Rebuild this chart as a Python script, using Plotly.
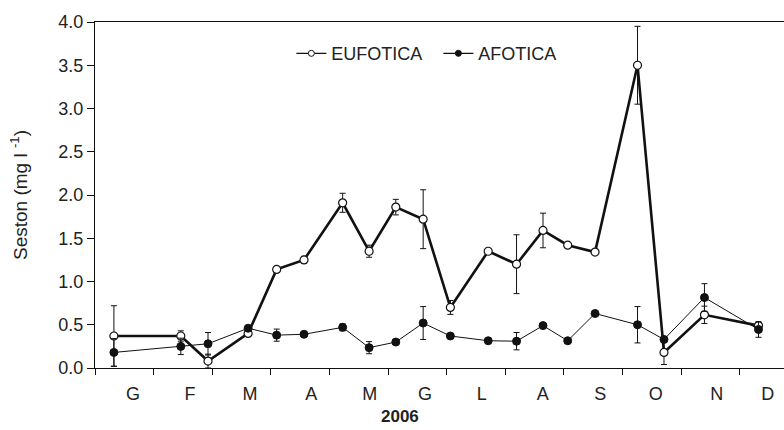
import datetime as dt
import calendar
import plotly.graph_objects as go

# Sampling dates (2006)
sample_dates = [
    "2006-01-11", "2006-02-14", "2006-02-27", "2006-03-20", "2006-04-04",
    "2006-04-18", "2006-05-08", "2006-05-22", "2006-06-05", "2006-06-19",
    "2006-07-03", "2006-07-23", "2006-08-07", "2006-08-21", "2006-09-03",
    "2006-09-17", "2006-10-09", "2006-10-23", "2006-11-13", "2006-12-11",
]

# Seston (mg l-1), euphotic layer: mean and error
eufotica = [0.37, 0.37, 0.08, 0.40, 1.14, 1.25, 1.91, 1.35, 1.86, 1.72,
            0.70, 1.35, 1.20, 1.59, 1.42, 1.34, 3.50, 0.18, 0.615, 0.49]
eufotica_err = [0.35, 0.06, 0.08, 0.03, 0.03, 0.04, 0.11, 0.07, 0.09, 0.34,
                0.08, 0.02, 0.34, 0.20, 0.02, 0.02, 0.45, 0.14, 0.10, 0.03]

# Seston (mg l-1), aphotic layer: mean and error
afotica = [0.18, 0.25, 0.28, 0.46, 0.38, 0.39, 0.47, 0.235, 0.30, 0.52,
           0.37, 0.315, 0.31, 0.49, 0.315, 0.63, 0.50, 0.33, 0.815, 0.445]
afotica_err = [0.16, 0.095, 0.13, 0.02, 0.07, 0.02, 0.04, 0.07, 0.02, 0.19,
               0.02, 0.02, 0.10, 0.02, 0.02, 0.02, 0.21, 0.03, 0.16, 0.09]

# Month initials and their label positions (in months from 1 January)
month_labels = ["G", "F", "M", "A", "M", "G", "L", "A", "S", "O", "N", "D"]
month_label_pos = [0.65, 1.62, 2.645, 3.69, 4.69, 5.63, 6.60, 7.64, 8.62, 9.57, 10.61, 11.48]
month_bounds = list(range(13))

y_ticks = [0, 0.5, 1.0, 1.5, 2.0, 2.5, 3.0, 3.5, 4.0]


def month_fraction(date_str):
    d = dt.date.fromisoformat(date_str)
    days = calendar.monthrange(d.year, d.month)[1]
    return (d.month - 1) + (d.day - 1) / days


x_vals = [month_fraction(s) for s in sample_dates]

INK = "#111111"
TEXT = "#222222"
FONT = "Liberation Sans, Arial, sans-serif"

fig = go.Figure()

fig.add_trace(go.Scatter(
    x=x_vals, y=eufotica, name="EUFOTICA", mode="lines+markers",
    showlegend=False,
    line=dict(color=INK, width=2.6),
    marker=dict(symbol="circle", size=8, color="white", line=dict(color=INK, width=1.2)),
    error_y=dict(type="data", array=eufotica_err, visible=True,
                 color=INK, thickness=1, width=3),
))

fig.add_trace(go.Scatter(
    x=x_vals, y=afotica, name="AFOTICA", mode="lines+markers",
    showlegend=False,
    line=dict(color=INK, width=1),
    marker=dict(symbol="circle", size=8, color=INK, line=dict(color=INK, width=1)),
    error_y=dict(type="data", array=afotica_err, visible=True,
                 color=INK, thickness=1, width=3),
))

# Legend keys: thin line with a small marker for each series
fig.add_trace(go.Scatter(
    x=[None], y=[None], name="EUFOTICA", mode="lines+markers",
    line=dict(color=INK, width=1.3),
    marker=dict(symbol="circle", size=6, color="white", line=dict(color=INK, width=1)),
))
fig.add_trace(go.Scatter(
    x=[None], y=[None], name="AFOTICA", mode="lines+markers",
    line=dict(color=INK, width=1.3),
    marker=dict(symbol="circle", size=6, color=INK, line=dict(color=INK, width=1)),
))

x_range = [0, 689 / 58.6]

fig.update_layout(
    width=784, height=430,
    margin=dict(l=95, r=0, t=22, b=62),
    plot_bgcolor="white", paper_bgcolor="white",
    font=dict(family=FONT, color=TEXT, size=18),
    showlegend=True,
    legend=dict(
        orientation="h", x=0.285, y=0.962, xanchor="left", yanchor="top",
        font=dict(size=18, color=TEXT), bgcolor="rgba(0,0,0,0)",
        entrywidth=102, entrywidthmode="pixels", tracegroupgap=0,
    ),
    xaxis=dict(
        range=x_range, tickmode="array", tickvals=month_bounds,
        showticklabels=False, ticks="outside", ticklen=6, tickwidth=1,
        tickcolor=INK, showline=True, linecolor=INK, linewidth=1.2,
        mirror=True, showgrid=False, zeroline=False,
    ),
    xaxis2=dict(
        overlaying="x", anchor="y", side="bottom", range=x_range,
        tickmode="array", tickvals=month_label_pos, ticktext=month_labels,
        ticks="outside", ticklen=9, tickcolor="rgba(0,0,0,0)",
        tickfont=dict(size=18, color=TEXT),
        showline=False, showgrid=False, zeroline=False,
    ),
    yaxis=dict(
        range=[0, 4], tickmode="array", tickvals=y_ticks, tickformat=".1f",
        ticks="outside", ticklen=7, tickwidth=1, tickcolor=INK,
        showline=True, linecolor=INK, linewidth=1.2,
        showgrid=False, zeroline=False,
        tickfont=dict(size=18, color=TEXT),
        title=dict(text="Seston (mg l <sup>-1</sup>)", font=dict(size=19, color=TEXT),
                   standoff=25),
    ),
    annotations=[dict(
        text="<b>2006</b>", xref="paper", yref="paper",
        x=(400 - 95) / 689, y=-(416 - 368) / 346,
        xanchor="center", yanchor="middle", showarrow=False,
        font=dict(size=17, color=TEXT),
    )],
)

# empty trace so the label axis is rendered
fig.add_trace(go.Scatter(x=[], y=[], xaxis="x2", showlegend=False, hoverinfo="skip"))

fig.write_html("out.html")
